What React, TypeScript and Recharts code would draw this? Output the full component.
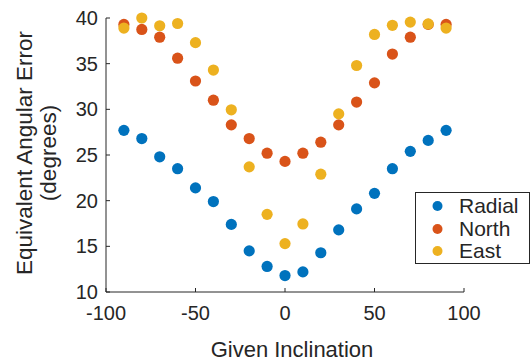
import React from 'react';
import { ScatterChart, Scatter, XAxis, YAxis, Legend } from 'recharts';

const inclination = [-90, -80, -70, -60, -50, -40, -30, -20, -10, 0, 10, 20, 30, 40, 50, 60, 70, 80, 90];
const radial = [27.7, 26.8, 24.8, 23.5, 21.4, 19.9, 17.4, 14.5, 12.8, 11.8, 12.2, 14.3, 16.8, 19.1, 20.8, 23.5, 25.4, 26.6, 27.7];
const north = [39.3, 38.75, 37.9, 35.6, 33.1, 31.0, 28.3, 26.8, 25.2, 24.3, 25.2, 26.4, 28.3, 30.8, 32.9, 36.05, 37.9, 39.3, 39.3];
const east = [38.9, 40.0, 39.15, 39.4, 37.3, 34.3, 29.95, 23.7, 18.5, 15.3, 17.45, 22.9, 29.5, 34.8, 38.2, 39.2, 39.55, 39.35, 38.9];

const xTicks = [-100, -50, 0, 50, 100];
const yTicks = [10, 15, 20, 25, 30, 35, 40];

const series = [
  { name: 'Radial', values: radial, color: '#0072BD' },
  { name: 'North', values: north, color: '#D95319' },
  { name: 'East', values: east, color: '#EDB120' },
];

const FONT = '"Liberation Sans", Arial, Helvetica, sans-serif';
const INK = '#262626';

const toPoints = (values: number[]) => inclination.map((x, i) => ({ x, y: values[i] }));

function Dot(props: any) {
  const { cx, cy, fill } = props;
  if (cx == null || cy == null) return null;
  return <circle cx={cx} cy={cy} r={5.6} fill={fill} />;
}

function XTick(props: any) {
  const { x, y, payload } = props;
  const axisY = y - 14;
  return (
    <g>
      <line x1={x} y1={axisY} x2={x} y2={axisY - 4} stroke={INK} strokeWidth={1} />
      <text x={x} y={y} dy="0.71em" textAnchor="middle" fill={INK} fontSize={20} fontFamily={FONT}>
        {payload.value}
      </text>
    </g>
  );
}

function YTick(props: any) {
  const { x, y, payload } = props;
  const axisX = x + 8;
  return (
    <g>
      <line x1={axisX} y1={y} x2={axisX + 4} y2={y} stroke={INK} strokeWidth={1} />
      <text x={x} y={y} dy="0.355em" textAnchor="end" fill={INK} fontSize={20} fontFamily={FONT}>
        {payload.value}
      </text>
    </g>
  );
}

function LegendBox() {
  return (
    <div
      style={{
        boxSizing: 'border-box',
        width: 115,
        height: 72,
        border: `1px solid ${INK}`,
        background: '#fff',
        paddingTop: 2,
        fontFamily: FONT,
        fontSize: 21,
        color: INK,
      }}
    >
      {series.map((s) => (
        <div key={s.name} style={{ display: 'flex', alignItems: 'center', height: 22.5 }}>
          <svg width={43} height={22} style={{ flex: 'none' }}>
            <circle cx={21.5} cy={11} r={5} fill={s.color} />
          </svg>
          <span style={{ lineHeight: '22px' }}>{s.name}</span>
        </div>
      ))}
    </div>
  );
}

export default function App() {
  return (
    <div style={{ position: 'absolute', left: 0, top: 0, width: 531, height: 362, background: '#fff' }}>
      <ScatterChart width={531} height={362} margin={{ top: 18, right: 67, bottom: 0, left: 0 }}>
        <XAxis
          type="number"
          dataKey="x"
          domain={[-100, 100]}
          ticks={xTicks}
          height={70}
          tickSize={0}
          tickMargin={14}
          tick={<XTick />}
          axisLine={{ stroke: INK, strokeWidth: 1 }}
          label={{
            content: () => (
              <text x={292} y={357} textAnchor="middle" fill={INK} fontSize={22} fontFamily={FONT}>
                Given Inclination
              </text>
            ),
          }}
        />
        <YAxis
          type="number"
          dataKey="y"
          domain={[10, 40]}
          ticks={yTicks}
          width={106}
          tickSize={0}
          tickMargin={8}
          tick={<YTick />}
          axisLine={{ stroke: INK, strokeWidth: 1 }}
          label={{
            content: () => (
              <g transform="translate(32,153) rotate(-90)">
                <text x={0} y={0} textAnchor="middle" fill={INK} fontSize={22.5} fontFamily={FONT}>
                  Equivalent Angular Error
                </text>
                <text x={0} y={24} textAnchor="middle" fill={INK} fontSize={22.5} fontFamily={FONT}>
                  (degrees)
                </text>
              </g>
            ),
          }}
        />
        <Legend
          layout="horizontal"
          verticalAlign="middle"
          align="center"
          wrapperStyle={{ left: 415, top: 192, width: 115 }}
          content={() => <LegendBox />}
        />
        {series.map((s) => (
          <Scatter
            key={s.name}
            name={s.name}
            data={toPoints(s.values)}
            fill={s.color}
            shape={<Dot />}
            isAnimationActive={false}
          />
        ))}
      </ScatterChart>
    </div>
  );
}
